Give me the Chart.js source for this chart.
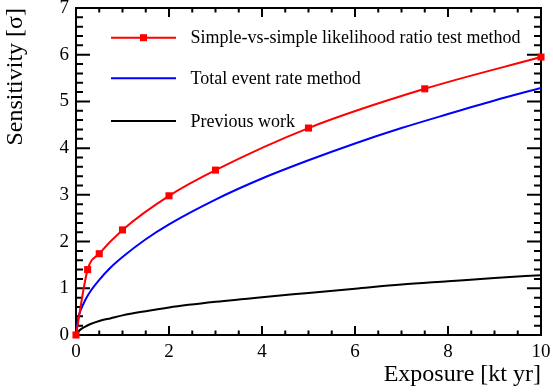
<!DOCTYPE html>
<html>
<head>
<meta charset="utf-8">
<script src="https://cdn.jsdelivr.net/npm/chart.js@4.4.1/dist/chart.umd.min.js"></script>
<style>
  html, body { margin: 0; padding: 0; background: #fff; }
  #wrap { width: 553px; height: 392px; }
</style>
</head>
<body>
<div id="wrap"><canvas id="sensChart"></canvas></div>
<script>
// exposure in kt yr, sensitivity in sigma
const ratioExposure = [0, 0.25, 0.5, 1, 2, 3, 5, 7.5, 10];
const ratioSigma = [0, 1.4, 1.74, 2.25, 2.98, 3.53, 4.43, 5.27, 5.95];

const curveExposure = [0, 0.05, 0.1, 0.2, 0.3, 0.5, 0.75, 1, 1.5, 2, 3, 4, 5, 6, 7, 8, 9, 10];
const rateSigma = [0, 0.37, 0.53, 0.75, 0.92, 1.18, 1.45, 1.67, 2.05, 2.37, 2.9, 3.35, 3.74, 4.1, 4.43, 4.73, 5.02, 5.29];
const previousSigma = [0, 0.07, 0.12, 0.18, 0.23, 0.3, 0.36, 0.42, 0.51, 0.59, 0.71, 0.81, 0.9, 0.99, 1.08, 1.15, 1.22, 1.28];

const seriesLabels = [
  "Simple-vs-simple likelihood ratio test method",
  "Total event rate method",
  "Previous work",
];
const xTickValues = [0, 2, 4, 6, 8, 10];
const yTickValues = [0, 1, 2, 3, 4, 5, 6, 7];

const serif = "'Liberation Serif', 'Times New Roman', serif";

const toPoints = (xs, ys) => xs.map((x, i) => ({ x: x, y: ys[i] }));

// ROOT style frame: ticks on all four sides pointing inward
const framePlugin = {
  id: "frame",
  beforeDatasetsDraw(chart) {
    const { ctx, chartArea: a, scales } = chart;
    const xs = scales.x, ys = scales.y;
    ctx.save();
    ctx.strokeStyle = "#000";
    ctx.lineWidth = 2;
    ctx.strokeRect(a.left, a.top, a.right - a.left, a.bottom - a.top);
    ctx.beginPath();
    for (let v = 0; v <= 10.001; v += 0.5) {
      const px = xs.getPixelForValue(v);
      const len = Math.abs(v % 2) < 0.001 ? 9 : 4.5;
      ctx.moveTo(px, a.bottom); ctx.lineTo(px, a.bottom - len);
      ctx.moveTo(px, a.top); ctx.lineTo(px, a.top + len);
    }
    for (let v = 0; v <= 7.001; v += 0.2) {
      const py = ys.getPixelForValue(v);
      const len = Math.abs(v - Math.round(v)) < 0.001 ? 14 : 7;
      ctx.moveTo(a.left, py); ctx.lineTo(a.left + len, py);
      ctx.moveTo(a.right, py); ctx.lineTo(a.right - len, py);
    }
    ctx.stroke();
    ctx.restore();
  },
  afterDraw(chart) {
    const { ctx } = chart;
    const rows = [37.7, 78.3, 121];
    ctx.save();
    ctx.font = "18px " + serif;
    ctx.textBaseline = "middle";
    ctx.fillStyle = "#000";
    chart.data.datasets.forEach((ds, i) => {
      const y = rows[i];
      ctx.strokeStyle = ds.borderColor;
      ctx.lineWidth = 2;
      ctx.beginPath();
      ctx.moveTo(111, y);
      ctx.lineTo(176, y);
      ctx.stroke();
      if (ds.pointRadius > 0) {
        ctx.fillStyle = ds.pointBackgroundColor;
        ctx.fillRect(143.5 - 3.5, y - 3.5, 7, 7);
      }
      ctx.fillStyle = "#000";
      ctx.fillText(ds.label, 190.5, y + 1);
    });
    ctx.restore();
  },
};

const ctx = document.getElementById("sensChart").getContext("2d");
const sensChart = new Chart(ctx, {
  type: "line",
  data: {
    datasets: [
      {
        label: seriesLabels[0],
        data: toPoints(ratioExposure, ratioSigma),
        borderColor: "#ff0000",
        borderWidth: 2,
        pointStyle: "rect",
        pointRadius: 5,
        pointBorderWidth: 0,
        pointBackgroundColor: "#ff0000",
        cubicInterpolationMode: "monotone",
        clip: false,
      },
      {
        label: seriesLabels[1],
        data: toPoints(curveExposure, rateSigma),
        borderColor: "#0000ff",
        borderWidth: 2,
        pointRadius: 0,
        cubicInterpolationMode: "monotone",
      },
      {
        label: seriesLabels[2],
        data: toPoints(curveExposure, previousSigma),
        borderColor: "#000000",
        borderWidth: 2,
        pointRadius: 0,
        cubicInterpolationMode: "monotone",
      },
    ],
  },
  options: {
    responsive: true,
    maintainAspectRatio: false,
    animation: false,
    layout: { padding: { top: 8, right: 12, left: 0, bottom: 0 } },
    plugins: {
      legend: { display: false },
      tooltip: { enabled: false },
    },
    scales: {
      x: {
        type: "linear",
        min: 0,
        max: 10,
        afterBuildTicks: (s) => { s.ticks = xTickValues.map((v) => ({ value: v })); },
        afterFit: (s) => { s.height = 57; s.paddingLeft = 0; s.paddingRight = 0; },
        grid: { display: false, drawTicks: false },
        border: { display: false },
        ticks: { color: "#000", padding: 6, maxRotation: 0, font: { family: serif, size: 19 } },
        title: {
          display: true,
          text: "Exposure [kt yr]",
          align: "end",
          color: "#000",
          padding: { top: 0, bottom: 2.4 },
          font: { family: serif, size: 24 },
        },
      },
      y: {
        min: 0,
        max: 7,
        afterBuildTicks: (s) => { s.ticks = yTickValues.map((v) => ({ value: v })); },
        afterFit: (s) => { s.width = 76; s.paddingTop = 0; s.paddingBottom = 0; },
        grid: { display: false, drawTicks: false },
        border: { display: false },
        ticks: { color: "#000", padding: 7, font: { family: serif, size: 19 } },
        title: {
          display: true,
          text: "Sensitivity [σ]",
          align: "end",
          color: "#000",
          padding: { top: 1.5, bottom: 0 },
          font: { family: serif, size: 24 },
        },
      },
    },
  },
  plugins: [framePlugin],
});
</script>
</body>
</html>
